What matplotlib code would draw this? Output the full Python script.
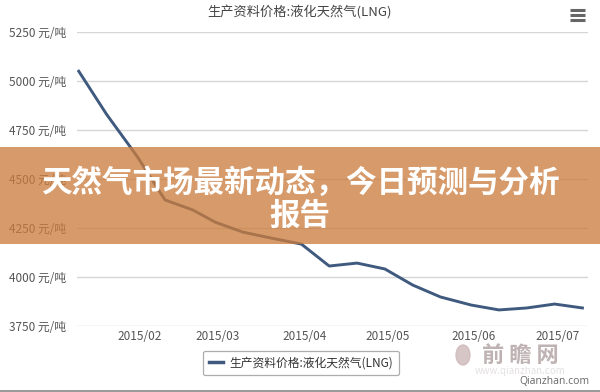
import matplotlib
matplotlib.use("Agg")
import matplotlib.pyplot as plt
import matplotlib.dates as mdates
from matplotlib.patches import Rectangle, Ellipse
from matplotlib.lines import Line2D
from datetime import datetime

plt.rcParams['font.family'] = ['Noto Sans CJK SC', 'DejaVu Sans']

dates = ["2015-01-10", "2015-01-20", "2015-01-31", "2015-02-10", "2015-02-20",
         "2015-02-28", "2015-03-10", "2015-03-20", "2015-03-31", "2015-04-10",
         "2015-04-20", "2015-04-30", "2015-05-10", "2015-05-20", "2015-05-31",
         "2015-06-10", "2015-06-20", "2015-06-30", "2015-07-10"]
prices = [5050, 4830, 4615, 4393, 4342, 4280, 4229, 4199, 4168, 4056,
          4071, 4041, 3959, 3898, 3857, 3832, 3842, 3862, 3842]
y_ticks = [3750, 4000, 4250, 4500, 4750, 5000, 5250]
x_ticks = ["2015-02-01", "2015-03-01", "2015-04-01", "2015-05-01", "2015-06-01", "2015-07-01"]
series_name = "生产资料价格:液化天然气(LNG)"
chart_title = "生产资料价格:液化天然气(LNG)"
banner_lines = ["天然气市场最新动态，今日预测与分析", "报告"]

W, H = 600, 392
fig = plt.figure(figsize=(W / 100, H / 100), dpi=100)
fig.patch.set_facecolor("white")

def fx(px):
    return px / W

def fy(py):
    return 1 - py / H

ax = fig.add_axes([fx(77), fy(326), fx(588) - fx(77), fy(32) - fy(326)])
xd = [datetime.strptime(d, "%Y-%m-%d") for d in dates]
ax.plot(xd, prices, color="#3f5a7e", lw=2.1, solid_joinstyle="round", zorder=3)

ax.set_xlim(datetime(2015, 1, 9, 9), datetime(2015, 7, 12))
ax.set_ylim(3750, 5250)
ax.set_yticks(y_ticks)
ax.set_yticklabels([f"{v} 元/吨" for v in y_ticks])
ax.set_xticks([datetime.strptime(d, "%Y-%m-%d") for d in x_ticks])
ax.xaxis.set_major_formatter(mdates.DateFormatter("%Y/%m"))
ax.grid(axis="y", color="#d6d6d6", lw=1)
ax.set_axisbelow(True)
for s in ax.spines.values():
    s.set_visible(False)
ax.tick_params(axis="both", length=0, labelsize=8.5, labelcolor="#555555")
ax.tick_params(axis="y", pad=8)
ax.tick_params(axis="x", pad=3)

# title
fig.text(0.5, fy(13), chart_title, ha="center", va="center", fontsize=9.5, color="#444444")

# hamburger icon
for yy in (10, 15, 20):
    fig.add_artist(Line2D([fx(570), fx(585)], [fy(yy), fy(yy)], color="#666666", lw=2.2,
                          solid_capstyle="butt"))

# legend
leg_handle = Line2D([], [], color="#3f5a7e", lw=2.5)
leg = fig.legend([leg_handle], [series_name], loc="center", bbox_to_anchor=(fx(301), fy(363)),
                 frameon=True, fontsize=8.5, handlelength=1.2, handletextpad=0.6,
                 borderpad=0.5, fancybox=True)
leg.get_frame().set_edgecolor("#999999")
leg.get_frame().set_linewidth(0.9)
for t in leg.get_texts():
    t.set_color("#333333")

# watermark
fig.add_artist(Ellipse((fx(463), fy(355)), fx(14), 20 / H, color="#cdb8b8", alpha=0.8))
fig.text(fx(520), fy(355), "前 瞻 网", ha="center", va="center", fontsize=16,
         color="#bfb2b2", fontweight="bold")
fig.text(fx(520), fy(371), "www.qianzhan.com", ha="center", va="center", fontsize=7,
         color="#e4e0e0")
fig.text(fx(589), fy(382), "Qianzhan.com", ha="right", va="center", fontsize=7.5,
         color="#666666", family=["Open Sans", "DejaVu Sans"])

# bottom line
fig.add_artist(Rectangle((0, 0), 1, 2.5 / H, transform=fig.transFigure,
                         facecolor="#9a9a9a", edgecolor="none"))

# banner overlay
fig.add_artist(Rectangle((0, fy(244)), 1, (244 - 147) / H, transform=fig.transFigure,
                         facecolor="#cb7c3c", edgecolor="none", alpha=0.76, zorder=10))
fig.text(0.5, fy(183), banner_lines[0], ha="center", va="center", fontsize=22,
         color="white", fontweight="bold", zorder=11)
fig.text(0.5, fy(216), banner_lines[1], ha="center", va="center", fontsize=22,
         color="white", fontweight="bold", zorder=11)

fig.savefig("out.png", dpi=100)
